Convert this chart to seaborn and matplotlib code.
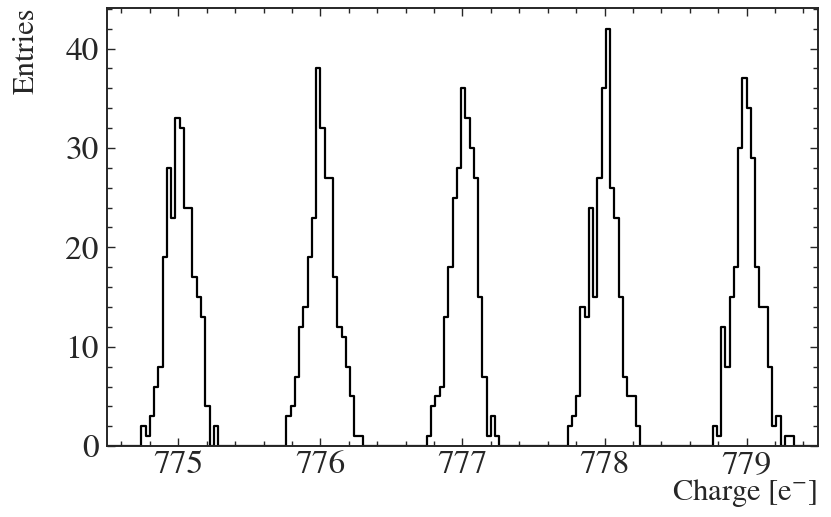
import numpy as np
import pandas as pd
import seaborn as sns
import matplotlib
matplotlib.use("Agg")
import matplotlib.pyplot as plt
from matplotlib.ticker import MultipleLocator

# histogram binning (width 0.03 e-, starting at 774.5)
bin_lo = 774.5
bin_w = 0.03
n_bins = 167

# left edge of the first filled bin of each peak, and the counts that follow
peak_starts = [774.74, 775.76, 776.75, 777.74, 778.76]
peak1 = [2, 1, 3, 6, 8, 19, 28, 23, 33, 32, 24, 24, 17, 15, 13, 4, 0, 2]
peak2 = [3, 4, 7, 12, 14, 19, 23, 38, 32, 27, 27, 17, 12, 11, 8, 5, 1, 1]
peak3 = [1, 4, 5, 6, 13, 18, 25, 28, 36, 33, 30, 27, 15, 7, 1, 3, 1]
peak4 = [2, 3, 5, 14, 13, 24, 15, 27, 36, 42, 26, 23, 15, 7, 5, 5, 2]
peak5 = [2, 1, 12, 8, 15, 18, 30, 37, 34, 29, 18, 14, 14, 8, 2, 3, 0, 1, 1]

edges = (bin_lo + bin_w * np.arange(n_bins + 1)).tolist()
centers = []
weights = []
for start, counts in zip(peak_starts, [peak1, peak2, peak3, peak4, peak5]):
    for i, c in enumerate(counts):
        centers.append(start + bin_w * (i + 0.5))
        weights.append(c)
df = pd.DataFrame({"charge": centers, "n": weights})

sns.set_style("ticks")
plt.rcParams["font.family"] = ["STIXGeneral", "Liberation Serif", "DejaVu Serif"]
plt.rcParams["mathtext.fontset"] = "stix"

fig, ax = plt.subplots(figsize=(8.31, 5.17), dpi=100)
fig.subplots_adjust(left=0.129, right=0.984, bottom=0.137, top=0.985)

sns.histplot(data=df, x="charge", weights="n", bins=edges, element="step",
             fill=False, color="black", linewidth=1.6, ax=ax)

ax.set_xlim(774.5, 779.5)
ax.set_ylim(0, 44.1)
ax.xaxis.set_major_locator(MultipleLocator(1))
ax.xaxis.set_minor_locator(MultipleLocator(0.2))
ax.yaxis.set_major_locator(MultipleLocator(10))
ax.yaxis.set_minor_locator(MultipleLocator(2))
ax.tick_params(which="both", direction="in", top=True, right=True, labelsize=24)
ax.tick_params(which="major", length=6, width=1.0)
ax.tick_params(which="minor", length=3.5, width=1.0)
ax.tick_params(axis="x", pad=3)
ax.tick_params(axis="y", pad=6)
for s in ax.spines.values():
    s.set_linewidth(1.4)

ax.set_xlabel(r"Charge [e$^{-}$]", fontsize=22, loc="right", labelpad=-2)
ax.set_ylabel("Entries", fontsize=22, loc="top", labelpad=18)

fig.savefig("out.png", dpi=100)
